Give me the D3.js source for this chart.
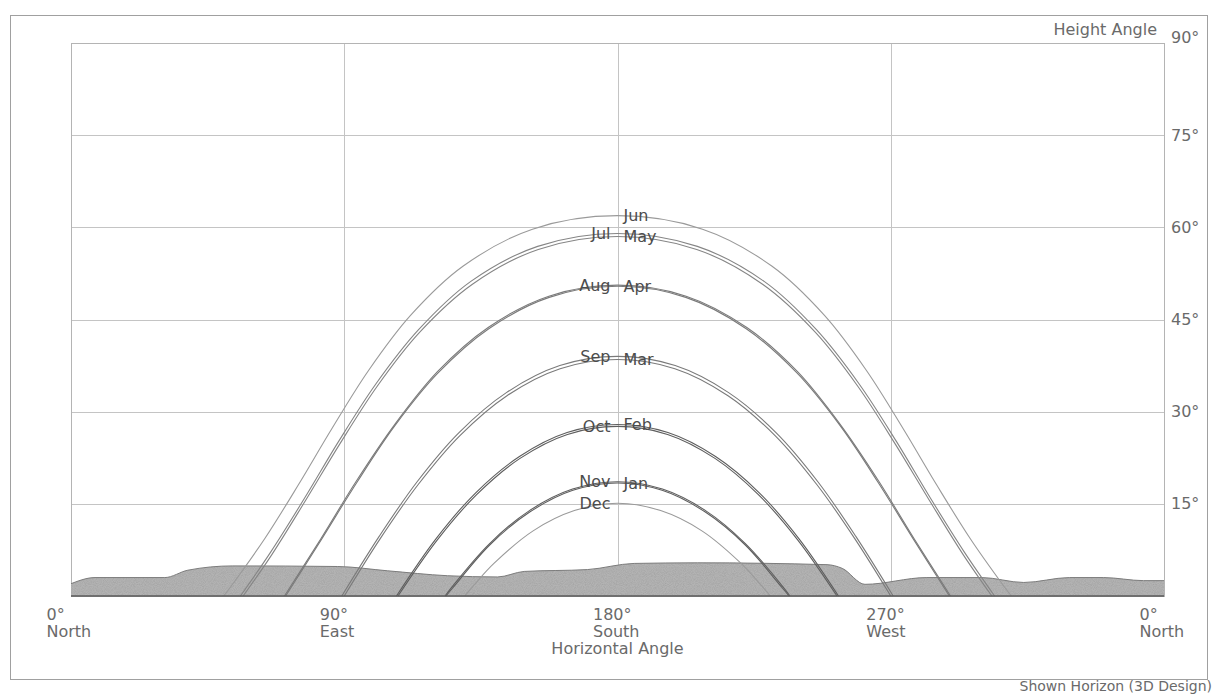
<!DOCTYPE html>
<html>
<head>
<meta charset="utf-8">
<script src="https://cdn.jsdelivr.net/npm/d3@7"></script>
<style>
  html, body { margin: 0; padding: 0; background: #fff; }
  svg { display: block; font-family: "DejaVu Sans", Verdana, sans-serif; }
</style>
</head>
<body>
<svg id="chart" width="1217" height="695"></svg>
<script>
// ---- Sun path data: [azimuth°, elevation°] from sunrise to sunset ----
const monthNames = ["Jan", "Feb", "Mar", "Apr", "May", "Jun", "Jul", "Aug", "Sep", "Oct", "Nov", "Dec"];

const pathJan = [[123.5,0],[125.7,1.3],[137.9,8.3],[151.2,13.7],[165.3,17.2],[180,18.4],[194.7,17.2],[208.8,13.7],[222.1,8.3],[234.3,1.3],[236.5,0]];
const pathFeb = [[107.2,0],[120.2,9.3],[133.3,16.8],[147.7,22.7],[163.4,26.6],[180,27.9],[196.6,26.6],[212.3,22.7],[226.7,16.8],[239.8,9.3],[252.8,0]];
const pathMar = [[90.0,0],[101.8,9.3],[114.3,18.1],[128.1,26.1],[143.6,32.6],[161.1,37.0],[180,38.5],[198.9,37.0],[216.4,32.6],[231.9,26.1],[245.7,18.1],[258.2,9.3],[270.0,0]];
const pathApr = [[70.7,0],[82.6,9.3],[94.3,18.6],[106.8,27.8],[120.9,36.3],[137.6,43.5],[157.5,48.6],[180,50.4],[202.5,48.6],[222.4,43.5],[239.1,36.3],[253.2,27.8],[265.7,18.6],[277.4,9.3],[289.3,0]];
const pathMay = [[56.7,0],[66.1,6.7],[77.2,15.5],[88.6,24.8],[100.8,34.1],[114.8,42.9],[132.1,50.7],[153.9,56.4],[180,58.5],[206.1,56.4],[227.9,50.7],[245.2,42.9],[259.2,34.1],[271.4,24.8],[282.8,15.5],[293.9,6.7],[303.3,0]];
const pathJun = [[50.3,0],[52.6,1.5],[63.9,9.4],[74.9,18.1],[86.0,27.3],[98.0,36.7],[111.9,45.7],[129.2,53.7],[152.0,59.7],[180,61.9],[208.0,59.7],[230.8,53.7],[248.1,45.7],[262.0,36.7],[274.0,27.3],[285.1,18.1],[296.1,9.4],[307.4,1.5],[309.7,0]];
const pathJul = [[55.8,0],[65.7,7.1],[76.9,15.9],[88.2,25.2],[100.4,34.5],[114.4,43.3],[131.7,51.2],[153.7,56.9],[180,59.0],[206.3,56.9],[228.3,51.2],[245.6,43.3],[259.6,34.5],[271.8,25.2],[283.1,15.9],[294.3,7.1],[304.2,0]];
const pathAug = [[70.3,0],[82.4,9.4],[94.1,18.8],[106.6,27.9],[120.7,36.5],[137.4,43.7],[157.4,48.8],[180,50.6],[202.6,48.8],[222.6,43.7],[239.3,36.5],[253.4,27.9],[265.9,18.8],[277.6,9.4],[289.7,0]];
const pathSep = [[89.2,0],[101.5,9.7],[114.0,18.6],[127.8,26.6],[143.4,33.1],[161.0,37.5],[180,39.0],[199.0,37.5],[216.6,33.1],[232.2,26.6],[246.0,18.6],[258.5,9.7],[270.8,0]];
const pathOct = [[107.7,0],[120.6,9.1],[133.6,16.5],[147.9,22.4],[163.5,26.3],[180,27.6],[196.5,26.3],[212.1,22.4],[226.4,16.5],[239.4,9.1],[252.3,0]];
const pathNov = [[123.2,0],[125.5,1.5],[137.8,8.5],[151.0,13.9],[165.2,17.4],[180,18.6],[194.8,17.4],[209.0,13.9],[222.2,8.5],[234.5,1.5],[236.8,0]];
const pathDec = [[129.7,0],[133.3,2.1],[139.3,5.3],[152.2,10.6],[165.8,13.9],[180,15.1],[194.2,13.9],[207.8,10.6],[220.7,5.3],[226.7,2.1],[230.3,0]];

// ---- Horizon profile ----
const horizonAz = [0, 7.9, 30.9, 38.5, 53.3, 87.8, 104.3, 124.0, 140.5, 149.3, 170.1, 185.5, 206.3, 249.0, 254.0, 261.5, 281.9, 300.0, 313.8, 328.9, 340.1, 353.3, 360];
const horizonEl = [2.0, 3.0, 3.0, 4.2, 4.9, 4.8, 4.1, 3.3, 3.1, 4.0, 4.3, 5.3, 5.4, 5.1, 4.5, 1.9, 3.0, 3.0, 2.2, 3.0, 3.0, 2.5, 2.5];

// ---- Axis ticks ----
const heightTicks = [15, 30, 45, 60, 75, 90];
const azimuthTicks = [0, 90, 180, 270, 360];
const azimuthDegLabels = ["0°", "90°", "180°", "270°", "0°"];
const azimuthDirLabels = ["North", "East", "South", "West", "North"];
const gridAz = [90, 180, 270];
const gridEl = [15, 30, 45, 60, 75];

// ---- Drawing ----
const monthPaths = [pathJan, pathFeb, pathMar, pathApr, pathMay, pathJun, pathJul, pathAug, pathSep, pathOct, pathNov, pathDec];
const lineTone = ["#5e5e5e", "#5e5e5e", "#7a7a7a", "#7a7a7a", "#858585", "#9a9a9a", "#858585", "#7a7a7a", "#7a7a7a", "#5e5e5e", "#5e5e5e", "#9a9a9a"];

const svg = d3.select("#chart");
const x = d3.scaleLinear().domain([0, 360]).range([71, 1164]);
const y = d3.scaleLinear().domain([0, 90]).range([596, 43]);

const axisText = "#6a6a6a";

// outer frame
svg.append("rect")
  .attr("x", 10.5).attr("y", 15.5).attr("width", 1197).attr("height", 664)
  .attr("fill", "none").attr("stroke", "#a0a0a0").attr("stroke-width", 1);

// grain for the horizon fill
const defs = svg.append("defs");
const f = defs.append("filter").attr("id", "grain").attr("x", 0).attr("y", 0).attr("width", "100%").attr("height", "100%");
f.append("feTurbulence").attr("type", "fractalNoise").attr("baseFrequency", 1.1).attr("numOctaves", 1).attr("seed", 7).attr("result", "noise");
f.append("feColorMatrix").attr("in", "noise").attr("type", "matrix")
  .attr("values", "0 0 0 0 0.35  0 0 0 0 0.35  0 0 0 0 0.35  1.6 0 0 0 -0.55").attr("result", "dots");
f.append("feComposite").attr("in", "dots").attr("in2", "SourceGraphic").attr("operator", "in").attr("result", "grainIn");
const merge = f.append("feMerge");
merge.append("feMergeNode").attr("in", "SourceGraphic");
merge.append("feMergeNode").attr("in", "grainIn");

// grid
const grid = svg.append("g").attr("stroke", "#c4c4c4").attr("stroke-width", 1);
grid.selectAll("line.h").data(gridEl).join("line").attr("class", "h")
  .attr("x1", x(0)).attr("x2", x(360))
  .attr("y1", d => Math.round(y(d)) + 0.5).attr("y2", d => Math.round(y(d)) + 0.5);
grid.selectAll("line.v").data(gridAz).join("line").attr("class", "v")
  .attr("y1", y(90)).attr("y2", y(0))
  .attr("x1", d => Math.round(x(d)) + 0.5).attr("x2", d => Math.round(x(d)) + 0.5);

// plot border
svg.append("rect")
  .attr("x", Math.round(x(0)) + 0.5).attr("y", Math.round(y(90)) + 0.5)
  .attr("width", Math.round(x(360) - x(0))).attr("height", Math.round(y(0) - y(90)))
  .attr("fill", "none").attr("stroke", "#b4b4b4");

// horizon
const horizon = horizonAz.map((a, i) => [a, horizonEl[i]]);
const area = d3.area().x(d => x(d[0])).y0(y(0)).y1(d => y(d[1])).curve(d3.curveMonotoneX);
svg.append("path").datum(horizon).attr("d", area)
  .attr("fill", "#b3b3b3").attr("filter", "url(#grain)");
svg.append("path").datum(horizon)
  .attr("d", d3.line().x(d => x(d[0])).y(d => y(d[1])).curve(d3.curveMonotoneX))
  .attr("fill", "none").attr("stroke", "#7c7c7c").attr("stroke-width", 1);

// sun paths
const sunLine = d3.line().x(d => x(d[0])).y(d => y(d[1])).curve(d3.curveCatmullRom.alpha(0.5));
svg.append("g").selectAll("path").data(monthPaths).join("path")
  .attr("d", sunLine)
  .attr("fill", "none")
  .attr("stroke", (d, i) => lineTone[i])
  .attr("stroke-width", 1.1);

// baseline
svg.append("line")
  .attr("x1", x(0)).attr("x2", x(360)).attr("y1", y(0)).attr("y2", y(0))
  .attr("stroke", "#5a5a5a").attr("stroke-width", 1.5);

// month labels at each path's highest point
svg.append("g").selectAll("text").data(monthPaths).join("text")
  .attr("x", (d, i) => i < 6 ? x(180) + 6 : x(180) - 7)
  .attr("y", d => y(d3.max(d, p => p[1])))
  .attr("dy", "0.36em")
  .attr("text-anchor", (d, i) => i < 6 ? "start" : "end")
  .attr("font-size", 16)
  .attr("fill", "#4c4c4c")
  .text((d, i) => monthNames[i]);

// right axis: height angle
const yAxis = svg.append("g")
  .attr("transform", `translate(${x(360)},0)`)
  .call(d3.axisRight(y).tickValues(heightTicks).tickSize(0).tickPadding(7).tickFormat(d => d + "°"));
yAxis.select(".domain").remove();
yAxis.selectAll("text")
  .attr("font-family", "DejaVu Sans, Verdana, sans-serif")
  .attr("font-size", 16).attr("fill", axisText)
  .attr("dy", d => d === 90 ? "-0.05em" : "0.32em");

svg.append("text")
  .attr("x", x(360) - 7).attr("y", y(90) - 8)
  .attr("text-anchor", "end").attr("font-size", 16).attr("fill", axisText)
  .text("Height Angle");

// bottom axis: horizontal angle
const xAxis = svg.append("g")
  .attr("transform", `translate(0,${y(0)})`)
  .call(d3.axisBottom(x).tickValues(azimuthTicks).tickSize(0).tickFormat(""));
xAxis.select(".domain").remove();
xAxis.selectAll(".tick").each(function (d, i) {
  const t = d3.select(this).select("text")
    .attr("font-family", "DejaVu Sans, Verdana, sans-serif")
    .attr("font-size", 16).attr("fill", axisText)
    .attr("text-anchor", "start").attr("dy", null).attr("y", null);
  t.append("tspan").attr("x", -25).attr("y", 24).text(azimuthDegLabels[i]);
  t.append("tspan").attr("x", -25).attr("y", 41).text(azimuthDirLabels[i]);
});

svg.append("text")
  .attr("x", x(180)).attr("y", y(0) + 58)
  .attr("text-anchor", "middle").attr("font-size", 16).attr("fill", axisText)
  .text("Horizontal Angle");

// caption below the frame
svg.append("text")
  .attr("x", 1212).attr("y", 691)
  .attr("text-anchor", "end").attr("font-size", 14).attr("fill", axisText)
  .text("Shown Horizon (3D Design)");
</script>
</body>
</html>
